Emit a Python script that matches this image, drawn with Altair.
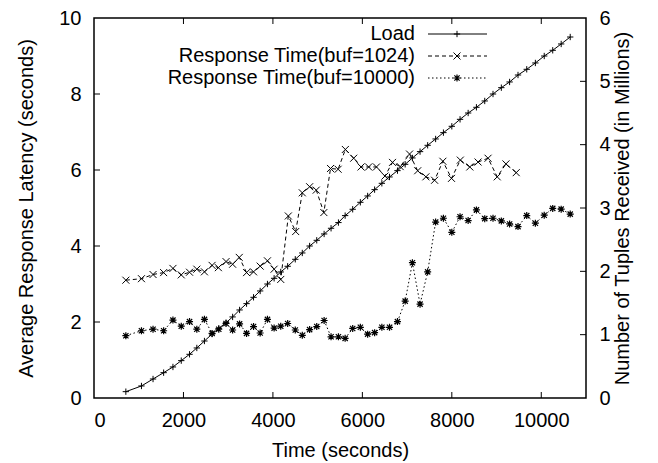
import altair as alt
import pandas as pd

# ---------------- data ----------------
time_load = [712, 1061, 1320, 1557, 1765, 1951, 2136, 2299, 2469, 2640,
             2790, 2952, 3099, 3255, 3411, 3567, 3715, 3878, 4027, 4175,
             4330, 4500, 4657, 4821, 4980, 5145, 5300, 5465, 5615, 5784,
             5955, 6118, 6274, 6436, 6607, 6785, 6957, 7119, 7290, 7460,
             7638, 7812, 8000, 8184, 8365, 8550, 8736, 8921, 9107, 9292,
             9480, 9675, 9868, 10066, 10256, 10445, 10647]
load_millions = [0.10, 0.19, 0.30, 0.40, 0.49, 0.59, 0.69, 0.79, 0.90, 1.01,
                 1.10, 1.19, 1.28, 1.39, 1.49, 1.59, 1.69, 1.80, 1.89, 1.99,
                 2.08, 2.19, 2.29, 2.40, 2.49, 2.59, 2.68, 2.77, 2.88, 2.98,
                 3.09, 3.19, 3.29, 3.39, 3.49, 3.59, 3.69, 3.79, 3.89, 3.99,
                 4.09, 4.19, 4.29, 4.40, 4.50, 4.59, 4.69, 4.80, 4.90, 4.99,
                 5.10, 5.19, 5.29, 5.40, 5.49, 5.59, 5.70]

time_buf1024 = [712, 1061, 1320, 1557, 1765, 1951, 2136, 2299, 2469, 2640,
                2781, 2952, 3099, 3248, 3411, 3567, 3715, 3878, 4027, 4175,
                4345, 4509, 4657, 4821, 4969, 5139, 5288, 5458, 5620, 5806,
                5970, 6140, 6315, 6505, 6674, 6845, 7055, 7237, 7420, 7615,
                7800, 7993, 8190, 8402, 8587, 8810, 9015, 9210, 9440]
resp_buf1024 = [3.10, 3.14, 3.25, 3.30, 3.41, 3.24, 3.31, 3.39, 3.32, 3.49,
                3.43, 3.59, 3.52, 3.70, 3.30, 3.32, 3.47, 3.61, 3.39, 3.12,
                4.79, 4.38, 5.40, 5.56, 5.47, 4.88, 6.04, 6.02, 6.54, 6.31,
                6.08, 6.08, 6.08, 5.84, 6.20, 6.09, 6.42, 5.98, 5.82, 5.73,
                6.23, 5.78, 6.26, 6.08, 6.21, 6.31, 5.82, 6.16, 5.93]

time_buf10000 = [712, 1061, 1320, 1557, 1765, 1951, 2136, 2299, 2469, 2640,
                 2790, 2952, 3099, 3255, 3411, 3567, 3715, 3878, 4027, 4175,
                 4330, 4500, 4657, 4821, 4980, 5145, 5300, 5465, 5615, 5784,
                 5955, 6118, 6274, 6436, 6607, 6785, 6957, 7119, 7290, 7460,
                 7638, 7812, 8000, 8184, 8365, 8550, 8736, 8921, 9107, 9292,
                 9480, 9675, 9868, 10066, 10256, 10445, 10647]
resp_buf10000 = [1.64, 1.77, 1.81, 1.77, 2.05, 1.89, 2.01, 1.81, 2.07, 1.70,
                 1.81, 1.96, 1.79, 1.95, 1.70, 1.88, 1.71, 2.07, 1.84, 1.89,
                 1.96, 1.79, 1.65, 1.80, 1.88, 2.04, 1.61, 1.61, 1.57, 1.83,
                 1.86, 1.68, 1.72, 1.86, 1.86, 2.01, 2.55, 3.56, 2.47, 3.32,
                 4.63, 4.73, 4.36, 4.77, 4.67, 4.95, 4.72, 4.73, 4.66, 4.58,
                 4.51, 4.80, 4.60, 4.81, 4.99, 4.97, 4.84]

x_ticks = [0, 2000, 4000, 6000, 8000, 10000]
left_ticks = [0, 2, 4, 6, 8, 10]
right_ticks = [0, 1, 2, 3, 4, 5, 6]
legend_labels = ["Load", "Response Time(buf=1024)", "Response Time(buf=10000)"]

# ---------------- layout / style ----------------
W, H = 492, 380
FONT = "Liberation Sans"
FS = 20
TICK = 6

PLUS = "M-1,0L1,0M0,-1L0,1"
CROSS = "M-1,-1L1,1M-1,1L1,-1"
STAR = "M-1,0L1,0M0,-1L0,1M-0.75,-0.75L0.75,0.75M-0.75,0.75L0.75,-0.75"

df_load = pd.DataFrame({"t": time_load, "v": load_millions})
df_1024 = pd.DataFrame({"t": time_buf1024, "v": resp_buf1024})
df_10000 = pd.DataFrame({"t": time_buf10000, "v": resp_buf10000})

xscale = alt.Scale(domain=[0, 11000], nice=False, zero=False)
yl = alt.Scale(domain=[0, 10], nice=False)
yr = alt.Scale(domain=[0, 6], nice=False)

x_axis = alt.Axis(values=x_ticks, title="Time (seconds)", ticks=False, domain=False,
                  grid=False, labelPadding=12, titlePadding=10, format="d",
                  labelFont=FONT, labelFontSize=FS, titleFont=FONT, titleFontSize=FS,
                  titleFontWeight="normal", labelColor="black", titleColor="black")
x_enc = alt.X("t:Q", scale=xscale, axis=x_axis)

left_axis = alt.Axis(values=left_ticks, orient="left", title="Average Response Latency (seconds)",
                     ticks=False, domain=False, grid=False, labelPadding=13, titlePadding=22,
                     format="d", labelFont=FONT, labelFontSize=FS, titleFont=FONT,
                     titleFontSize=FS, titleFontWeight="normal", labelColor="black",
                     titleColor="black")
right_axis = alt.Axis(values=right_ticks, orient="right",
                      title="Number of Tuples Received (in Millions)",
                      ticks=False, domain=False, grid=False, labelPadding=13, titlePadding=22,
                      titleAngle=270, format="d", labelFont=FONT, labelFontSize=FS,
                      titleFont=FONT, titleFontSize=FS, titleFontWeight="normal",
                      labelColor="black", titleColor="black")

layers = []

# series: buf=1024 (left axis shown here)
layers.append(alt.Chart(df_1024).mark_line(color="black", strokeWidth=1, strokeDash=[4, 3]).encode(
    x=x_enc, y=alt.Y("v:Q", scale=yl, axis=left_axis)))
layers.append(alt.Chart(df_1024).mark_point(shape=CROSS, size=49, color="black", filled=False,
                                             strokeWidth=1, opacity=1).encode(
    x=x_enc, y=alt.Y("v:Q", scale=yl, axis=None)))

# series: buf=10000
layers.append(alt.Chart(df_10000).mark_line(color="black", strokeWidth=1, strokeDash=[1.5, 2.5]).encode(
    x=x_enc, y=alt.Y("v:Q", scale=yl, axis=None)))
layers.append(alt.Chart(df_10000).mark_point(shape=STAR, size=49, color="black", filled=False,
                                              strokeWidth=1.2, opacity=1).encode(
    x=x_enc, y=alt.Y("v:Q", scale=yl, axis=None)))

# series: load (right axis)
layers.append(alt.Chart(df_load).mark_line(color="black", strokeWidth=1).encode(
    x=x_enc, y=alt.Y("v:Q", scale=yr, axis=right_axis)))
layers.append(alt.Chart(df_load).mark_point(shape=PLUS, size=40, color="black", filled=False,
                                             strokeWidth=1, opacity=1).encode(
    x=x_enc, y=alt.Y("v:Q", scale=yr, axis=None)))

# inward ticks (gnuplot style)
df_xt = pd.DataFrame({"t": x_ticks[1:]})
layers.append(alt.Chart(df_xt).mark_rule(color="black", strokeWidth=1).encode(
    x=x_enc, y=alt.value(H), y2=alt.value(H - TICK)))
layers.append(alt.Chart(df_xt).mark_rule(color="black", strokeWidth=1).encode(
    x=x_enc, y=alt.value(0), y2=alt.value(TICK)))
df_ylt = pd.DataFrame({"v": left_ticks[1:-1]})
layers.append(alt.Chart(df_ylt).mark_rule(color="black", strokeWidth=1).encode(
    y=alt.Y("v:Q", scale=yl, axis=None), x=alt.value(0), x2=alt.value(TICK)))
df_yrt = pd.DataFrame({"v": right_ticks[1:-1]})
layers.append(alt.Chart(df_yrt).mark_rule(color="black", strokeWidth=1).encode(
    y=alt.Y("v:Q", scale=yr, axis=None), x=alt.value(W - TICK), x2=alt.value(W)))

# legend (gnuplot style: label, then line sample with marker)
legend_y = [16, 38, 60]
legend_dash = [[1, 0], [4, 3], [1.5, 2.5]]
legend_shape = [PLUS, CROSS, STAR]
legend_size = [40, 49, 49]
legend_sw = [1, 1, 1.2]
for i, lab in enumerate(legend_labels):
    d = pd.DataFrame({"label": [lab]})
    layers.append(alt.Chart(d).mark_text(align="right", baseline="middle", font=FONT,
                                         fontSize=FS, color="black").encode(
        text="label:N", x=alt.value(321), y=alt.value(legend_y[i])))
    layers.append(alt.Chart(d).mark_rule(color="black", strokeWidth=1,
                                         strokeDash=legend_dash[i]).encode(
        x=alt.value(334), x2=alt.value(393), y=alt.value(legend_y[i])))
    layers.append(alt.Chart(d).mark_point(shape=legend_shape[i], size=legend_size[i],
                                          color="black", filled=False,
                                          strokeWidth=legend_sw[i], opacity=1).encode(
        x=alt.value(363), y=alt.value(legend_y[i])))

chart = alt.layer(*layers).resolve_scale(y="independent").properties(
    width=W, height=H,
    padding={"left": 94, "top": 18, "right": 72, "bottom": 65},
    autosize=alt.AutoSizeParams(type="none"),
    background="white",
).configure_view(stroke="black", strokeWidth=1.5)

chart.save("out.html", embed_options={"renderer": "svg", "actions": False})
